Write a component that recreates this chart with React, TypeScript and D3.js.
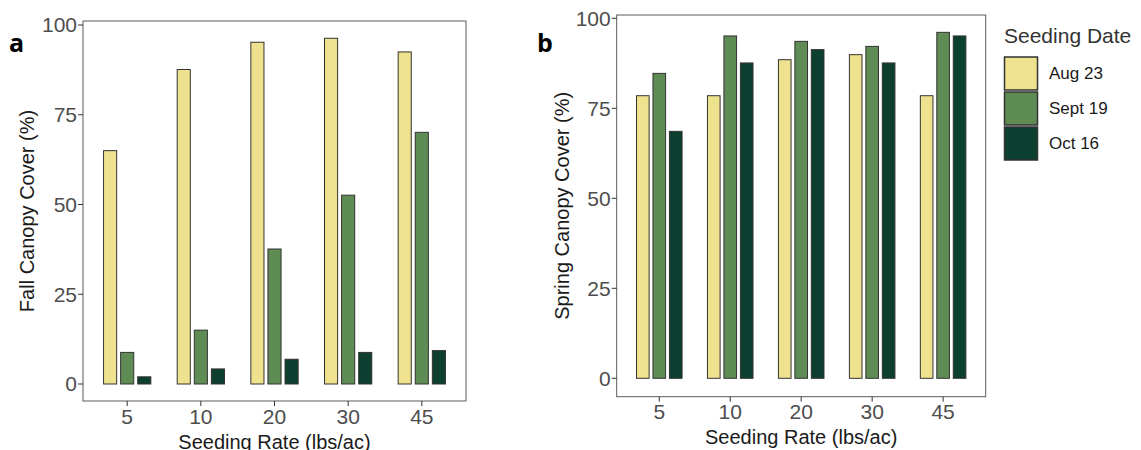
import React from "react";
import * as d3 from "d3";

const categories = ["5", "10", "20", "30", "45"];
const seriesNames = ["Aug 23", "Sept 19", "Oct 16"];
const colors = ["#EFE28F", "#5F8B55", "#0D3F30"];
const fallAug = [65, 87.6, 95.2, 96.3, 92.5];
const fallSept = [8.8, 15, 37.6, 52.6, 70.1];
const fallOct = [2, 4.2, 6.9, 8.8, 9.3];
const springAug = [78.5, 78.5, 88.5, 89.9, 78.5];
const springSept = [84.7, 95.1, 93.6, 92.2, 96.1];
const springOct = [68.6, 87.6, 91.3, 87.6, 95.1];
const yTicks = [0, 25, 50, 75, 100];

type PanelProps = {
  left: number; right: number; top: number; bottom: number;
  y0: number; y100: number;
  series: number[][];
  yTitle: string; letter: string; letterX: number;
  yTitleX: number; xTickY: number; xTitleY: number;
};

function Panel(p: PanelProps) {
  const x = d3.scaleBand<string>().domain(categories)
    .range([p.left, p.right]).paddingOuter(0.1).paddingInner(0);
  // ggplot-like expansion: 0.6 units each side
  const step = (p.right - p.left) / 5.2;
  const cx = (c: string) => p.left + step * (0.6 + categories.indexOf(c));
  const y = d3.scaleLinear().domain([0, 100]).range([p.y0, p.y100]);
  const bw = step * 0.178;
  const off = step * 0.232;
  const font = "Arial, 'Liberation Sans', sans-serif";
  void x;
  return (
    <g>
      <rect x={p.left} y={p.top} width={p.right - p.left} height={p.bottom - p.top}
        fill="white" stroke="#5a5a5a" strokeWidth={1} />
      {p.series.map((vals, si) =>
        vals.map((v, ci) => {
          const c = categories[ci];
          const xc = cx(c) + (si - 1) * off;
          return (
            <rect key={`${si}-${ci}`} x={xc - bw / 2} y={y(v)} width={bw}
              height={y(0) - y(v)} fill={colors[si]} stroke="#333" strokeWidth={1} />
          );
        })
      )}
      {yTicks.map((t) => (
        <g key={t}>
          <line x1={p.left - 5} x2={p.left} y1={y(t)} y2={y(t)} stroke="#333" />
          <text x={p.left - 6} y={y(t)} dy="0.35em" textAnchor="end"
            fontFamily={font} fontSize={21} fill="#4d4d4d">{t}</text>
        </g>
      ))}
      {categories.map((c) => (
        <g key={c}>
          <line x1={cx(c)} x2={cx(c)} y1={p.bottom} y2={p.bottom + 5} stroke="#333" />
          <text x={cx(c)} y={p.xTickY} textAnchor="middle"
            fontFamily={font} fontSize={21} fill="#4d4d4d">{c}</text>
        </g>
      ))}
      <text x={(p.left + p.right) / 2} y={p.xTitleY} textAnchor="middle"
        fontFamily={font} fontSize={20} fill="#1a1a1a">Seeding Rate (lbs/ac)</text>
      <text transform={`translate(${p.yTitleX},${(p.top + p.bottom) / 2}) rotate(-90)`}
        textAnchor="middle" dy="0.35em" fontFamily={font} fontSize={20} fill="#1a1a1a">
        {p.yTitle}
      </text>
      <text x={p.letterX} y={51.5} fontFamily="'Open Sans', 'DejaVu Sans', sans-serif"
        fontWeight="bold" fontSize={25} fill="#000">{p.letter}</text>
    </g>
  );
}

export default function App() {
  const font = "Arial, 'Liberation Sans', sans-serif";
  return (
    <svg width={1141} height={450} style={{ position: "absolute", left: 0, top: 0 }}>
      <rect width={1141} height={450} fill="white" />
      <Panel left={83} right={466} top={21} bottom={401} y0={384} y100={25}
        series={[fallAug, fallSept, fallOct]} yTitle="Fall Canopy Cover (%)"
        letter="a" letterX={9} yTitleX={27} xTickY={424} xTitleY={449} />
      <Panel left={616.7} right={985.7} top={15} bottom={396.7} y0={378.3} y100={18.3}
        series={[springAug, springSept, springOct]} yTitle="Spring Canopy Cover (%)"
        letter="b" letterX={537} yTitleX={562} xTickY={419} xTitleY={444} />
      <g>
        <text x={1004} y={43} fontFamily={font} fontSize={21} fill="#333">Seeding Date</text>
        {seriesNames.map((s, i) => (
          <g key={s}>
            <rect x={1004.5} y={57 + i * 35} width={33} height={33}
              fill={colors[i]} stroke="#333" strokeWidth={1.5} />
            <text x={1049} y={57 + i * 35 + 16.5} dy="0.35em" fontFamily={font}
              fontSize={17} fill="#1a1a1a">{s}</text>
          </g>
        ))}
      </g>
    </svg>
  );
}
